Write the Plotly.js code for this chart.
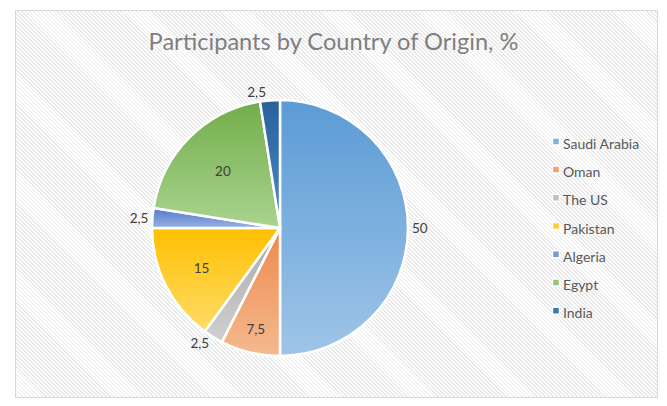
<!DOCTYPE html>
<html>
<head>
<meta charset="utf-8">
<script src="https://cdn.plot.ly/plotly-3.0.1.min.js"></script>
<style>
  html, body { margin: 0; padding: 0; background: #ffffff; }
  #frame {
    position: absolute; left: 15px; top: 10px; width: 641px; height: 386px;
    border: 1px solid #d9d9d9;
    background: repeating-linear-gradient(45deg, #ffffff 0px, #ffffff 1.6px, #e9e9e9 1.6px, #e9e9e9 2.8px);
  }
  #chart { position: absolute; left: 0; top: 0; width: 667px; height: 406px; }
</style>
</head>
<body>
<div id="frame"></div>
<div id="chart"></div>
<script>
const categories = ["Saudi Arabia", "Oman", "The US", "Pakistan", "Algeria", "Egypt", "India"];
const shares = [50, 7.5, 2.5, 15, 2.5, 20, 2.5];
const sliceColors = ["#7fb1df", "#f2a06c", "#c0c0c0", "#ffcc33", "#7c97d6", "#92c47a", "#3b78b0"];
const gradTop = ["#5b9bd5", "#ed8a4c", "#a9a9a9", "#ffc000", "#4f78c8", "#72ad4a", "#28609a"];
const gradBottom = ["#9fc5e8", "#f5b98f", "#d0d0d0", "#ffdc6a", "#9bb1e2", "#a9d490", "#4f8cc6"];
const labelPlacement = ["outside", "inside", "outside", "inside", "outside", "inside", "outside"];

const legendLabels = categories.map(c => '<span style="font-size:14px">' + c + '</span>');

const trace = {
  type: "pie",
  labels: legendLabels,
  values: shares,
  sort: false,
  direction: "clockwise",
  rotation: 0,
  textinfo: "value",
  textposition: labelPlacement,
  insidetextorientation: "horizontal",
  marker: { colors: sliceColors, line: { color: "#ffffff", width: 2.5 } },
  insidetextfont: { family: "Lato, sans-serif", size: 13.5, color: "#404040" },
  outsidetextfont: { family: "Lato, sans-serif", size: 13.5, color: "#404040" },
  domain: { x: [0.2279, 0.6117], y: [0.1232, 0.7537] },
  hoverinfo: "label+value"
};

const layout = {
  width: 667, height: 406,
  margin: { l: 0, r: 0, t: 0, b: 0 },
  paper_bgcolor: "rgba(0,0,0,0)",
  plot_bgcolor: "rgba(0,0,0,0)",
  separators: ",.",
  title: {
    text: "Participants by Country of Origin, %",
    font: { family: "Lato, sans-serif", size: 23.6, color: "#7f7f7f" },
    x: 0.5, xanchor: "center", xref: "paper",
    y: 0.897, yanchor: "middle", yref: "paper"
  },
  showlegend: true,
  legend: {
    x: 0.7841, xanchor: "left",
    y: 0.6988, yanchor: "top",
    bgcolor: "rgba(0,0,0,0)",
    font: { family: "Lato, sans-serif", size: 19.4, color: "#595959" }
  }
};

Plotly.newPlot("chart", [trace], layout, { displayModeBar: false, staticPlot: true }).then(gd => {
  // smaller legend squares, closer to the text
  gd.querySelectorAll(".legendpoints path").forEach(p => {
    const t = p.getAttribute("transform") || "";
    p.setAttribute("transform", t + " translate(13,0) scale(0.58)");
  });
  // vertical gradient fill for each slice
  const NS = "http://www.w3.org/2000/svg";
  const svg = gd.querySelector("svg.main-svg");
  let defs = svg.querySelector("defs");
  if (!defs) { defs = document.createElementNS(NS, "defs"); svg.insertBefore(defs, svg.firstChild); }
  gradTop.forEach((c, i) => {
    const g = document.createElementNS(NS, "linearGradient");
    g.setAttribute("id", "sliceGrad" + i);
    g.setAttribute("x1", "0"); g.setAttribute("y1", "0");
    g.setAttribute("x2", "0"); g.setAttribute("y2", "1");
    const s1 = document.createElementNS(NS, "stop");
    s1.setAttribute("offset", "0"); s1.setAttribute("stop-color", c);
    const s2 = document.createElementNS(NS, "stop");
    s2.setAttribute("offset", "1"); s2.setAttribute("stop-color", gradBottom[i]);
    g.appendChild(s1); g.appendChild(s2);
    defs.appendChild(g);
  });
  gd.querySelectorAll(".pielayer .slice path.surface").forEach((p, i) => {
    p.style.fill = "url(#sliceGrad" + i + ")";
  });
});
</script>
</body>
</html>
